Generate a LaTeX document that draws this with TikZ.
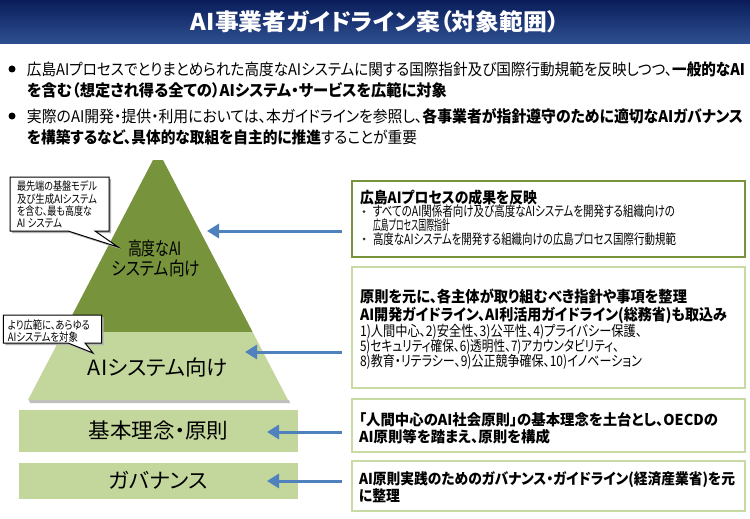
\documentclass[tikz,border=0pt]{standalone}
\usepackage{fontspec}
\setmainfont{Noto Sans CJK JP}[RawFeature=+palt]
\usepackage{graphicx}
\usetikzlibrary{arrows.meta}
\definecolor{dkgreen}{HTML}{77933C}
\definecolor{ltgreen}{HTML}{C3D69B}
\definecolor{boxedge}{HTML}{C9DBA5}
\definecolor{arrblue}{HTML}{4F81BD}
\definecolor{navytop}{HTML}{0A1D5A}
\definecolor{navybot}{HTML}{2F5091}
\newcommand{\fitw}[2]{\resizebox{#1}{\height}{#2}}
\begin{document}
\begin{tikzpicture}[x=1pt,y=-1pt,
  every node/.style={inner sep=0pt,outer sep=0pt},
  bultxt/.style={anchor=west,font=\fontsize{16}{16}\selectfont},
  hdtxt/.style={anchor=west,font=\bfseries\fontsize{15.5}{15.5}\selectfont},
  bdtxt/.style={anchor=west,font=\bfseries\fontsize{15}{15}\selectfont},
  smtxt/.style={anchor=west,font=\fontsize{14}{14}\selectfont},
  numtxt/.style={anchor=west,font=\fontsize{14.5}{14.5}\selectfont},
  calltxt/.style={anchor=west,font=\fontsize{11.5}{11.5}\selectfont},
  tiertxt/.style={font=\fontsize{21}{21}\selectfont},
  toptxt/.style={font=\fontsize{18.5}{18.5}\selectfont},
  rbox/.style={draw=boxedge,line width=1.6pt,anchor=north west,minimum width=393pt},
  arr/.style={draw=arrblue,line width=3pt,-{Triangle[length=12pt,width=14pt]}},
  callbox/.style={draw=black,line width=1pt,fill=white},
  bdot/.style={circle,fill=black,minimum size=7pt},
  sdot/.style={circle,fill=black!80,minimum size=3pt}]
\useasboundingbox (0,0) rectangle (750,519);
\fill[white] (0,0) rectangle (750,519);
% title bar
\shade[top color=navytop,bottom color=navybot] (0,0) rectangle (750,44);
\node[font=\bfseries\fontsize{23}{23}\selectfont,text=white] (title) at (375,22)
  {\fitw{368pt}{AI事業者ガイドライン案（対象範囲）}};
% bullets
\node[bdot] (bu1) at (12,69) {};
\node[bultxt] (l1) at (27,69) {\fitw{718pt}{広島AIプロセスでとりまとめられた高度なAIシステムに関する国際指針及び国際行動規範を反映しつつ、\textbf{一般的なAI}}};
\node[bultxt] (l2) at (27,90) {\fitw{420pt}{\textbf{を含む（想定され得る全ての）AIシステム・サービスを広範に対象}}};
\node[bdot] (bu2) at (12,116) {};
\node[bultxt] (l3) at (27,116) {\fitw{716pt}{実際のAI開発・提供・利用においては、本ガイドラインを参照し、\textbf{各事業者が指針遵守のために適切なAIガバナンス}}};
\node[bultxt] (l4) at (27,137) {\fitw{390pt}{\textbf{を構築するなど、具体的な取組を自主的に推進}することが重要}};
% pyramid
\fill[black!25] (29,400) -- (289,400) -- (290,403) -- (30,403) -- cycle;
\fill[dkgreen] (153,160) -- (163,160) -- (252.6,332) -- (63.4,332) -- cycle;
\fill[ltgreen] (63.4,332) -- (252.6,332) -- (288,400) -- (28,400) -- cycle;
\node[toptxt] (p1) at (155,248) {\fitw{54pt}{高度なAI}};
\node[toptxt] (p2) at (156,268) {\fitw{88pt}{システム向け}};
\node[tiertxt] (p3) at (158,367) {\fitw{140pt}{AIシステム向け}};
% base rectangles
\node[fill=ltgreen,minimum width=279pt,minimum height=42pt,tiertxt] (r1) at (158.5,431)
  {\fitw{140pt}{基本理念・原則}};
\node[fill=ltgreen,minimum width=279pt,minimum height=36pt,tiertxt] (r2) at (158.5,480.5)
  {\fitw{99pt}{ガバナンス}};
% callout 1
\fill[black!30] (12,179) -- (111,179) -- (111,233) -- (97,233) -- (120,249) -- (70,233) -- (12,233) -- cycle;
\draw[callbox] (10,177) -- (109,177) -- (109,231) -- (95,231) -- (118,247) -- (68,231) -- (10,231) -- cycle;
\node[calltxt] (c1a) at (17,186) {\fitw{80pt}{最先端の基盤モデル}};
\node[calltxt] (c1b) at (17,199) {\fitw{80pt}{及び生成AIシステム}};
\node[calltxt] (c1c) at (17,211.5) {\fitw{75pt}{を含む、最も高度な}};
\node[calltxt] (c1d) at (17,223) {\fitw{45pt}{AI システム}};
% callout 2
\fill[black!30] (5.3,317) -- (103.7,317) -- (103.7,345) -- (87,345) -- (95,355) -- (70,345) -- (5.3,345) -- cycle;
\draw[callbox] (3.3,315) -- (101.7,315) -- (101.7,343) -- (85,343) -- (93,353) -- (68,343) -- (3.3,343) -- cycle;
\node[calltxt] (c2a) at (8,325) {\fitw{82pt}{より広範に、あらゆる}};
\node[calltxt] (c2b) at (8,337) {\fitw{70pt}{AIシステムを対象}};
% right boxes
\node[rbox,draw=dkgreen,minimum height=76pt] (b1) at (352,181) {};
\node[rbox,minimum height=121pt] (b2) at (352,267) {};
\node[rbox,minimum height=53pt] (b3) at (352,399) {};
\node[rbox,minimum height=50pt] (b4) at (352,461) {};
% box 1 text
\node[hdtxt] (t11) at (360,197.7) {\fitw{177pt}{広島AIプロセスの成果を反映}};
\node[sdot] (d1) at (364,211.7) {};
\node[smtxt] (t12) at (373,211.7) {\fitw{302pt}{すべてのAI関係者向け及び高度なAIシステムを開発する組織向けの}};
\node[smtxt] (t13) at (373,225) {\fitw{77pt}{広島プロセス国際指針}};
\node[sdot] (d2) at (364,239) {};
\node[smtxt] (t14) at (373,239) {\fitw{303pt}{高度なAIシステムを開発する組織向けの広島プロセス国際行動規範}};
% box 2 text
\node[hdtxt] (t21) at (360,296.7) {\fitw{327pt}{原則を元に、各主体が取り組むべき指針や事項を整理}};
\node[hdtxt] (t22) at (360,315) {\fitw{367pt}{AI開発ガイドライン、AI利活用ガイドライン(総務省)も取込み}};
\node[numtxt] (t23) at (360,331.7) {\fitw{282pt}{1)人間中心、2)安全性、3)公平性、4)プライバシー保護、}};
\node[numtxt] (t24) at (360,346.7) {\fitw{259pt}{5)セキュリティ確保、6)透明性、7)アカウンタビリティ、}};
\node[numtxt] (t25) at (360,361.7) {\fitw{282pt}{8)教育・リテラシー、9)公正競争確保、10)イノベーション}};
% box 3 text
\node[bdtxt] (t31) at (359,420) {\fitw{359pt}{「人間中心のAI社会原則」の基本理念を土台とし、OECDの}};
\node[bdtxt] (t32) at (359,436.7) {\fitw{191pt}{AI原則等を踏まえ、原則を構成}};
% box 4 text
\node[bdtxt] (t41) at (359,479.5) {\fitw{376pt}{AI原則実践のためのガバナンス・ガイドライン(経済産業省)を元}};
\node[bdtxt] (t42) at (359,495.5) {\fitw{41pt}{に整理}};
% arrows
\coordinate (s1) at (342,231); \coordinate (e1) at (207,231);
\coordinate (s2) at (342,352); \coordinate (e2) at (245,352);
\coordinate (s3) at (342,432); \coordinate (e3) at (267,432);
\coordinate (s4) at (342,481); \coordinate (e4) at (267,481);
\draw[arr] (s1) -- (e1);
\draw[arr] (s2) -- (e2);
\draw[arr] (s3) -- (e3);
\draw[arr] (s4) -- (e4);
\end{tikzpicture}
\end{document}
